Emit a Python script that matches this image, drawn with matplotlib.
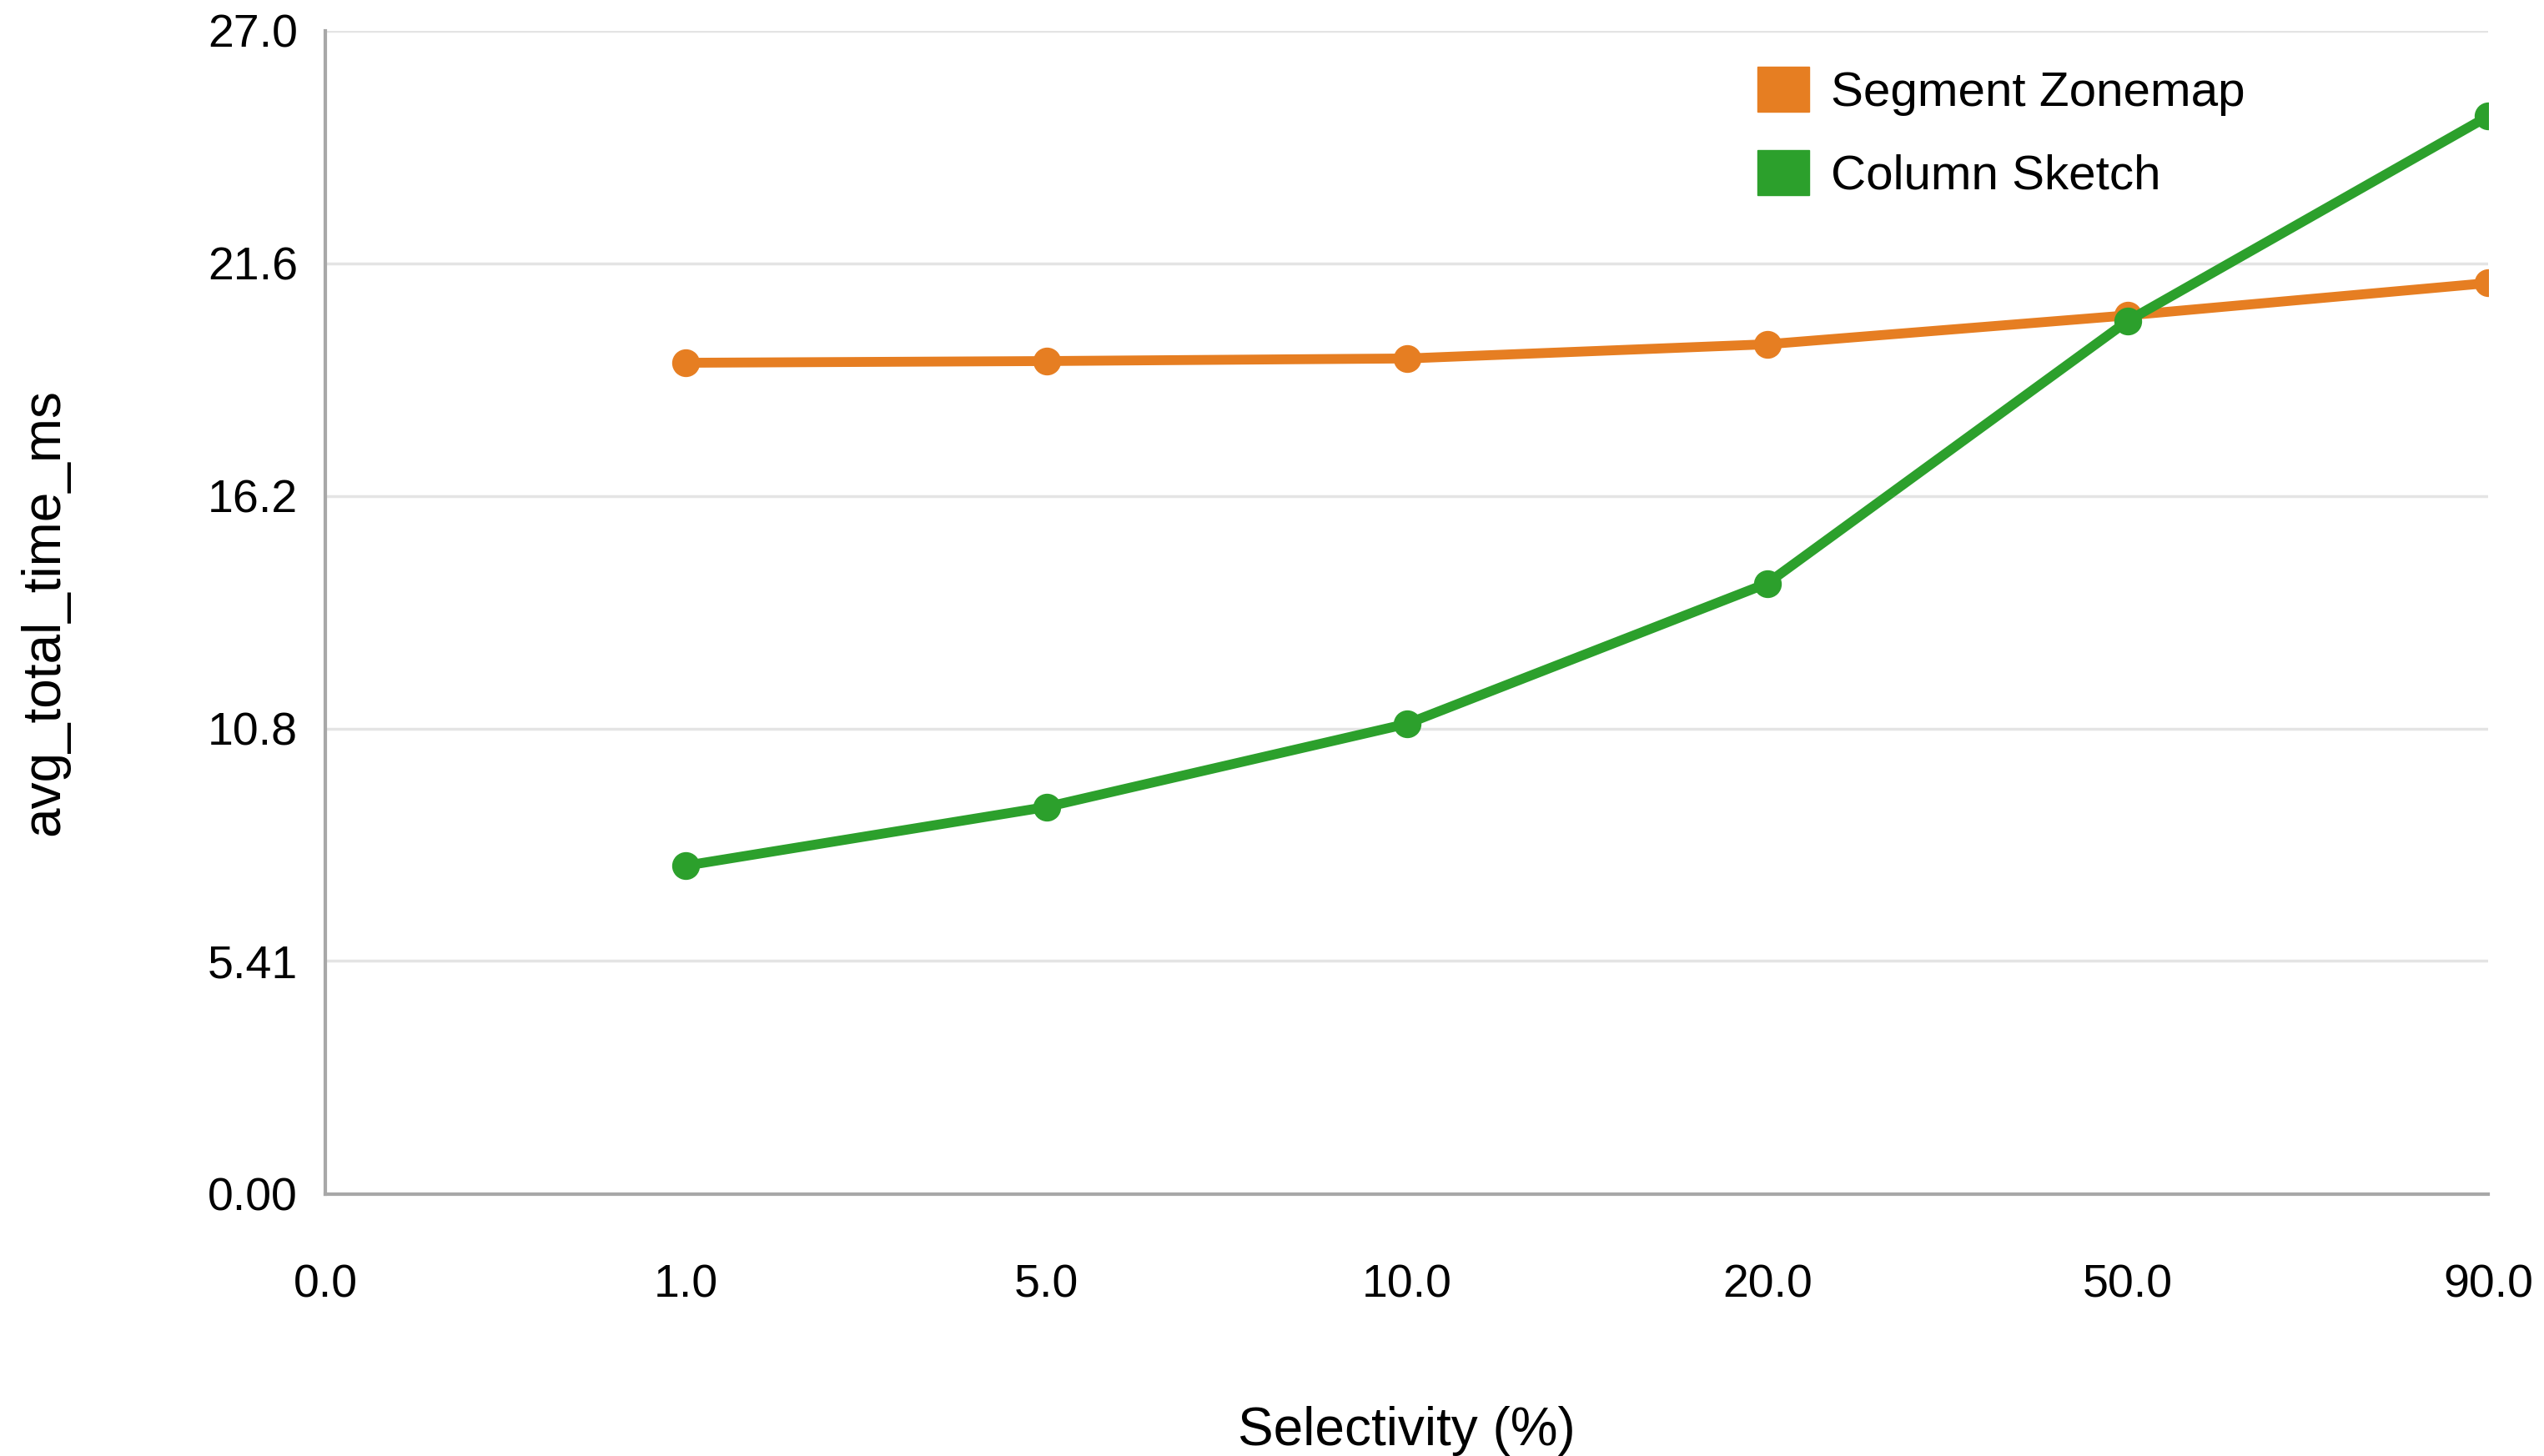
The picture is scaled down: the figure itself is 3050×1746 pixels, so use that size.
import matplotlib.pyplot as plt
import numpy as np
from matplotlib.patches import Patch

plt.rcParams['font.family'] = ['Liberation Sans', 'DejaVu Sans']

selectivity = ['0.0', '1.0', '5.0', '10.0', '20.0', '50.0', '90.0']
zonemap_ms = [19.29, 19.33, 19.39, 19.72, 20.39, 21.14]
sketch_ms = [7.62, 8.98, 10.91, 14.17, 20.26, 25.01]
yticks = [0.0, 5.41, 10.8, 16.2, 21.6, 27.0]
ytick_labels = ['0.00', '5.41', '10.8', '16.2', '21.6', '27.0']

orange = '#e67e22'
green = '#2ca02c'

fig = plt.figure(figsize=(30.5, 17.46), dpi=100)
ax = fig.add_axes([0.128, 0.180, 0.850, 0.799])

xpos = np.arange(1, len(selectivity))
ax.plot(xpos, zonemap_ms, color=orange, lw=8.5, marker='o', ms=23, label='Segment Zonemap', zorder=3)
ax.plot(xpos, sketch_ms, color=green, lw=8.5, marker='o', ms=23, label='Column Sketch', zorder=4)

ax.set_xlim(0, len(selectivity) - 1)
ax.set_ylim(0, 27)
ax.set_xticks(np.arange(len(selectivity)))
ax.set_xticklabels(selectivity)
ax.set_yticks(yticks)
ax.set_yticklabels(ytick_labels)
ax.tick_params(axis='both', length=0, labelsize=40, colors='#000000')
ax.tick_params(axis='x', pad=60)
ax.tick_params(axis='y', pad=24)

ax.grid(axis='y', color='#e4e4e4', lw=2.5)
ax.set_axisbelow(True)
for s in ['top', 'right']:
    ax.spines[s].set_visible(False)
for s in ['left', 'bottom']:
    ax.spines[s].set_color('#a8a8a8')
    ax.spines[s].set_linewidth(3)

ax.set_xlabel('Selectivity (%)', fontsize=46, labelpad=86)
ax.set_ylabel('avg_total_time_ms', fontsize=46, labelpad=119)

handles = [Patch(color=orange), Patch(color=green)]
ax.legend(handles, ['Segment Zonemap', 'Column Sketch'], loc='upper left',
          bbox_to_anchor=(0.651, 0.99), frameon=False, fontsize=42, borderpad=0,
          handlelength=1.05, handleheight=1.05, handletextpad=0.45, labelspacing=0.7)

plt.savefig('out.png', dpi=100)
